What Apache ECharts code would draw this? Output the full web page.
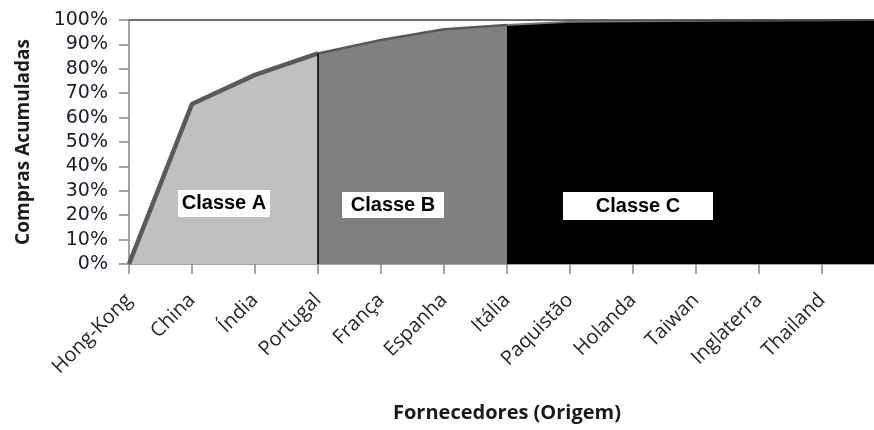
<!DOCTYPE html>
<html>
<head>
<meta charset="utf-8">
<script src="https://cdn.jsdelivr.net/npm/echarts@6/dist/echarts.min.js"></script>
<style>
html,body{margin:0;padding:0;background:#fff;}
#chart{width:874px;height:430px;}
</style>
</head>
<body>
<div id="chart"></div>
<script>
// Suppliers (origin); the last slot is off-picture (cropped) and unlabeled
const categories = ['Hong-Kong','China','Índia','Portugal','França','Espanha','Itália','Paquistão','Holanda','Taiwan','Inglaterra','Thailand',''];
// Cumulative purchases (%)
const cumulative = [0, 65.6, 77.5, 86.3, 91.8, 96.2, 98.0, 99.3, 99.5, 99.7, 99.8, 99.9, 100];
// Class boundaries (category names)
const classA = ['Hong-Kong', 'Portugal'];
const classB = ['Portugal', 'Itália'];
const classC = ['Itália', ''];
const classLabels = ['Classe A', 'Classe B', 'Classe C'];
const yTicks = [0, 10, 20, 30, 40, 50, 60, 70, 80, 90, 100];

function slice(range) {
  const s = categories.indexOf(range[0]);
  const e = categories.lastIndexOf(range[1]);
  return cumulative.map((v, i) => (i >= s && i <= e ? v : null));
}

const chart = echarts.init(document.getElementById('chart'), null, {renderer: 'canvas'});
const portugalIdx = categories.indexOf('Portugal');

const labelFont = {fontFamily: 'Liberation Sans', fontWeight: 'bold', fontSize: 20, fill: '#000'};
function classBox(text, x, y, w, h) {
  return [
    {type: 'rect', z: 100, shape: {x: x, y: y, width: w, height: h}, style: {fill: '#fff'}},
    {type: 'text', z: 101, x: x + w / 2, y: y + h / 2,
     style: Object.assign({text: text, align: 'center', verticalAlign: 'middle'}, labelFont)}
  ];
}

chart.setOption({
  animation: false,
  backgroundColor: '#fff',
  grid: {left: 129, top: 20, height: 244, width: 756, containLabel: false, outerBoundsMode: 'none'},
  xAxis: {
    type: 'category',
    boundaryGap: false,
    data: categories,
    axisLine: {lineStyle: {color: '#868686', width: 1.5}},
    axisTick: {show: true, length: 10, lineStyle: {color: '#868686', width: 1.5}},
    axisLabel: {interval: 0, rotate: 45, margin: 33, fontFamily: 'Open Sans', fontSize: 20, color: '#262626'},
    splitLine: {show: false},
    name: 'Fornecedores (Origem)',
    nameLocation: 'middle',
    nameGap: 139,
    nameTextStyle: {fontFamily: 'Open Sans', fontWeight: 'bold', fontSize: 20, color: '#1a1a1a'}
  },
  yAxis: {
    type: 'value',
    min: yTicks[0], max: yTicks[yTicks.length - 1], interval: 10,
    axisLine: {show: true, lineStyle: {color: '#868686', width: 1.5}},
    axisTick: {show: true, length: 10, lineStyle: {color: '#868686', width: 1.5}},
    axisLabel: {formatter: '{value}%', margin: 21, fontFamily: 'DejaVu Sans', fontSize: 19, color: '#1f1a2a'},
    splitLine: {show: false},
    name: 'Compras Acumuladas',
    nameLocation: 'middle',
    nameRotate: 90,
    nameGap: 96,
    nameTextStyle: {fontFamily: 'Open Sans', fontWeight: 'bold', fontSize: 19, color: '#1a1a1a'}
  },
  series: [
    {
      name: 'Classe A', type: 'line', data: slice(classA),
      symbol: 'none',
      lineStyle: {color: '#5a5a5a', width: 4.5},
      areaStyle: {color: '#c0c0c0', opacity: 1},
      z: 3,
      markLine: {
        silent: true, symbol: 'none', label: {show: false},
        data: [
          [{coord: [portugalIdx, 0], lineStyle: {color: '#000', width: 1.5, type: 'solid'}},
           {coord: [portugalIdx, cumulative[portugalIdx]]}],
          [{yAxis: 100, x: 129, lineStyle: {color: '#3c3c3c', width: 1.5, type: 'solid'}},
           {yAxis: 100, x: 874}]
        ]
      }
    },
    {
      name: 'Classe B', type: 'line', data: slice(classB),
      symbol: 'none',
      lineStyle: {color: '#585858', width: 2.5},
      areaStyle: {color: '#808080', opacity: 1},
      z: 2
    },
    {
      name: 'Classe C', type: 'line', data: slice(classC),
      symbol: 'none',
      lineStyle: {color: '#777777', width: 2},
      areaStyle: {color: '#000000', opacity: 1},
      z: 2
    }
  ],
  graphic: [].concat(
    classBox(classLabels[0], 178, 190, 92, 27),
    classBox(classLabels[1], 342, 192, 102, 26),
    classBox(classLabels[2], 563, 192, 150, 28)
  )
});
</script>
</body>
</html>
